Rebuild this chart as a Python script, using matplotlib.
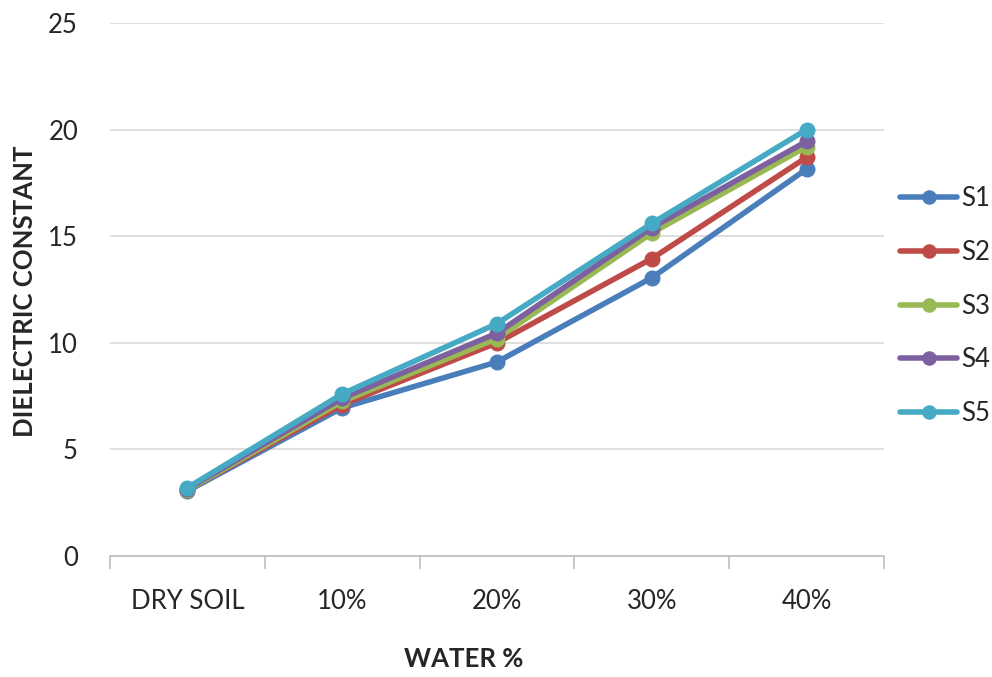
import matplotlib
matplotlib.use("Agg")
import matplotlib.pyplot as plt

categories = ["DRY SOIL", "10%", "20%", "30%", "40%"]
series_names = ["S1", "S2", "S3", "S4", "S5"]
S1 = [3.05, 6.95, 9.1, 13.05, 18.15]
S2 = [3.1, 7.1, 10.0, 13.95, 18.7]
S3 = [3.1, 7.25, 10.2, 15.15, 19.2]
S4 = [3.15, 7.4, 10.45, 15.4, 19.45]
S5 = [3.2, 7.6, 10.9, 15.6, 20.0]
yticks = [0, 5, 10, 15, 20, 25]

colors = ["#4A7EBB", "#BE4B48", "#98B954", "#7D60A0", "#46AAC5"]

plt.rcParams['font.family'] = ['Lato', 'DejaVu Sans']

fig = plt.figure(figsize=(9.92, 6.77), dpi=100)
ax = fig.add_axes([110/992, 1-556/677, (884-110)/992, (556-23)/677])

x = list(range(len(categories)))
for name, vals, c in zip(series_names, [S1, S2, S3, S4, S5], colors):
    ax.plot(x, vals, color=c, lw=4.0, marker='o', markersize=10.5, label=name,
            solid_capstyle='round', solid_joinstyle='round')

ax.set_xlim(-0.5, len(categories) - 0.5)
ax.set_ylim(0, 25)
ax.set_yticks(yticks)
ax.yaxis.grid(True, color="#D9D9D9", lw=1.2)
ax.set_axisbelow(True)
for s in ["top", "right", "left"]:
    ax.spines[s].set_visible(False)
ax.spines["bottom"].set_color("#BFBFBF")
ax.spines["bottom"].set_linewidth(1.2)
ax.tick_params(axis='y', length=0, pad=23, labelsize=18.5, labelcolor="#262626")
ax.set_xticks(x)
ax.set_xticklabels(categories)
ax.set_xticks([i - 0.5 for i in range(len(categories) + 1)], minor=True)
ax.tick_params(axis='x', which='major', length=0, pad=24, labelsize=18.5, labelcolor="#262626")
ax.tick_params(axis='x', which='minor', length=9, width=1.2, color="#BFBFBF")

fig.text(25/992, 1-291/677, "DIELECTRIC CONSTANT", rotation=90, ha='center', va='center',
         fontsize=18.5, fontweight='bold', color="#262626")
fig.text(464/992, 1-659/677, "WATER %", ha='center', va='center',
         fontsize=18.5, fontweight='bold', color="#262626")

leg = fig.legend(loc='center left', bbox_to_anchor=(890/992, 1-306/677), frameon=False,
                 fontsize=18.5, handlelength=2.2, handletextpad=0.15, labelspacing=1.12,
                 markerscale=0.9, borderaxespad=0)
for t in leg.get_texts():
    t.set_color("#262626")

fig.savefig("out.png", dpi=100)
